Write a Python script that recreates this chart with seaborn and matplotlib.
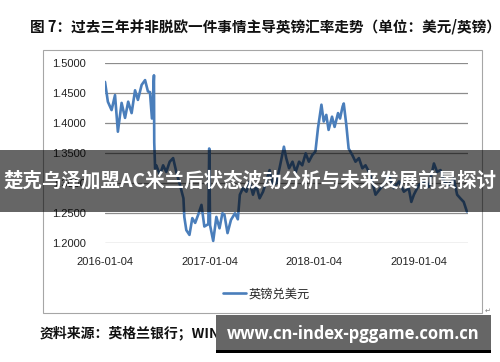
import matplotlib
matplotlib.use("Agg")
import matplotlib.pyplot as plt
import matplotlib.patches as mpatches
from matplotlib.lines import Line2D
import pandas as pd
import seaborn as sns

dates = [
    "2016-01-04", "2016-01-14", "2016-01-27", "2016-02-08", "2016-02-18", "2016-03-02",
    "2016-03-14", "2016-03-25", "2016-04-06", "2016-04-18", "2016-04-28", "2016-05-11",
    "2016-05-23", "2016-06-02", "2016-06-09", "2016-06-16", "2016-06-23", "2016-06-24",
    "2016-06-27", "2016-07-01", "2016-07-14", "2016-07-25", "2016-08-05", "2016-08-17",
    "2016-08-29", "2016-09-09", "2016-09-22", "2016-10-04", "2016-10-07", "2016-10-14",
    "2016-10-25", "2016-11-04", "2016-11-14", "2016-11-24", "2016-12-06", "2016-12-16",
    "2016-12-30", "2017-01-02", "2017-01-05", "2017-01-16", "2017-01-27", "2017-02-07",
    "2017-02-17", "2017-02-24", "2017-03-07", "2017-03-19", "2017-04-02", "2017-04-12",
    "2017-04-19", "2017-04-30", "2017-05-12", "2017-05-23", "2017-06-04", "2017-06-15",
    "2017-06-27", "2017-07-09", "2017-07-20", "2017-08-01", "2017-08-13", "2017-08-24",
    "2017-09-05", "2017-09-20", "2017-09-28", "2017-10-08", "2017-10-20", "2017-10-31",
    "2017-11-12", "2017-11-23", "2017-12-05", "2017-12-16", "2017-12-28", "2018-01-08",
    "2018-01-17", "2018-01-29", "2018-02-06", "2018-02-15", "2018-02-23", "2018-03-07",
    "2018-03-16", "2018-03-28", "2018-04-04", "2018-04-13", "2018-04-17", "2018-04-26",
    "2018-05-04", "2018-05-17", "2018-05-28", "2018-06-09", "2018-06-21", "2018-07-02",
    "2018-07-14", "2018-07-25", "2018-08-06", "2018-08-24", "2018-09-10", "2018-09-21",
    "2018-10-09", "2018-10-27", "2018-11-13", "2018-11-30", "2018-12-09", "2018-12-18",
    "2019-01-04", "2019-01-22", "2019-02-08", "2019-02-26", "2019-03-09", "2019-03-21",
    "2019-04-02", "2019-04-19", "2019-05-06", "2019-05-18", "2019-05-29", "2019-06-10",
    "2019-06-21",
]
gbpusd = [
    1.469, 1.436, 1.422, 1.447, 1.386, 1.434,
    1.409, 1.436, 1.417, 1.455, 1.439, 1.464,
    1.472, 1.453, 1.452, 1.408, 1.480, 1.368,
    1.325, 1.330, 1.314, 1.330, 1.319, 1.336,
    1.342, 1.319, 1.297, 1.275, 1.244, 1.222,
    1.214, 1.242, 1.234, 1.247, 1.264, 1.228,
    1.232, 1.358, 1.230, 1.204, 1.244, 1.225,
    1.250, 1.248, 1.217, 1.239, 1.250, 1.240,
    1.281, 1.292, 1.286, 1.303, 1.281, 1.297,
    1.275, 1.286, 1.303, 1.322, 1.297, 1.300,
    1.326, 1.361, 1.342, 1.325, 1.336, 1.319,
    1.336, 1.330, 1.350, 1.336, 1.347, 1.353,
    1.392, 1.431, 1.403, 1.414, 1.389, 1.411,
    1.394, 1.417, 1.408, 1.428, 1.433, 1.397,
    1.358, 1.347, 1.336, 1.342, 1.325, 1.330,
    1.319, 1.303, 1.281, 1.292, 1.303, 1.314,
    1.292, 1.303, 1.286, 1.292, 1.269, 1.281,
    1.297, 1.303, 1.294, 1.333, 1.319, 1.322,
    1.303, 1.297, 1.308, 1.281, 1.275, 1.269,
    1.253,
]
series_name = "英镑兑美元"
x_ticks = ["2016-01-04", "2017-01-04", "2018-01-04", "2019-01-04"]
y_ticks = [1.20, 1.25, 1.30, 1.35, 1.40, 1.45, 1.50]
title = "图 7：过去三年并非脱欧一件事情主导英镑汇率走势（单位：美元/英镑）"
source = "资料来源：英格兰银行；WIND"
banner = "楚克乌泽加盟AC米兰后状态波动分析与未来发展前景探讨"
watermark = "www.cn-index-pggame.com.cn"

sns.set_theme(style="white")
plt.rcParams["font.family"] = ["Liberation Sans", "Noto Sans CJK SC", "DejaVu Sans"]
CJK = ["Noto Sans CJK SC", "DejaVu Sans"]

df = pd.DataFrame({"date": pd.to_datetime(dates), "value": gbpusd})

W, H = 500, 362
fig = plt.figure(figsize=(W / 100, H / 100), dpi=100)
fig.patch.set_facecolor("white")

ax = fig.add_axes([105 / W, 1 - 243.3 / H, (468 - 105) / W, 180 / H])
line_color = "#4a7ebb"
sns.lineplot(data=df, x="date", y="value", ax=ax, color=line_color, linewidth=1.9, legend=False)

ax.set_ylim(1.20, 1.50)
ax.set_xlim(pd.Timestamp("2016-01-04"), pd.Timestamp("2019-06-25"))
ax.set_yticks(y_ticks)
ax.set_yticklabels([f"{v:.4f}" for v in y_ticks], fontsize=8, color="#222222")
ax.set_xticks(pd.to_datetime(x_ticks))
ax.set_xticklabels(x_ticks, fontsize=8, color="#222222")
ax.tick_params(axis="both", length=0)
ax.tick_params(axis="y", pad=14)
ax.tick_params(axis="x", pad=10)
ax.set_xlabel("")
ax.set_ylabel("")
for s in ax.spines.values():
    s.set_visible(False)
ax.yaxis.grid(True, color="#8c8c8c", linewidth=0.9)
ax.xaxis.grid(False)
ax.set_axisbelow(True)
ax.patch.set_alpha(0)

handle = Line2D([], [], color=line_color, linewidth=1.9)
leg = ax.legend([handle], [series_name], loc="center left",
                bbox_to_anchor=(217 / W, 1 - 294 / H), bbox_transform=fig.transFigure,
                frameon=False, handlelength=1.9, handletextpad=0.15, borderpad=0,
                prop={"family": CJK, "size": 8.8})

# chart frame
fig.add_artist(mpatches.Rectangle((43 / W, 1 - 313 / H), 439 / W, 263 / H, fill=False,
                                  edgecolor="#a6a6a6", linewidth=0.8,
                                  transform=fig.transFigure, zorder=1))
fig.text(485 / W, 1 - 311 / H, "↵", fontsize=5, color="#808080", family=["DejaVu Sans"],
         ha="left", va="center")

fig.text(30 / W, 1 - 27 / H, title, family=CJK, fontsize=10.5, fontweight="bold",
         ha="left", va="center", color="#111111")
fig.text(40 / W, 1 - 333 / H, source, family=CJK, fontsize=10, fontweight="bold",
         ha="left", va="center", color="#111111", zorder=2)

# overlay banner
fig.add_artist(mpatches.Rectangle((0, 1 - 212 / H), 1, 62 / H, facecolor="black", alpha=0.6,
                                  edgecolor="none", transform=fig.transFigure, zorder=10))
fig.text(0.5, 1 - 181 / H, banner, family=CJK, fontsize=14, fontweight="bold",
         color="white", ha="center", va="center", zorder=11)

# watermark box
fig.add_artist(mpatches.Rectangle((216 / W, 1 - 350 / H), 275 / W, 35 / H, facecolor="#666666",
                                  edgecolor="none", transform=fig.transFigure, zorder=10))
fig.add_artist(mpatches.Rectangle((216 / W, 1 - 352.5 / H), 275 / W, 2.5 / H, facecolor="black",
                                  edgecolor="none", transform=fig.transFigure, zorder=10))
fig.text(353 / W, 1 - 334 / H, watermark, family=["Open Sans", "DejaVu Sans"], fontsize=12,
         fontweight="bold", color="white", ha="center", va="center", zorder=11)

fig.savefig("out.png", dpi=100, facecolor="white")
